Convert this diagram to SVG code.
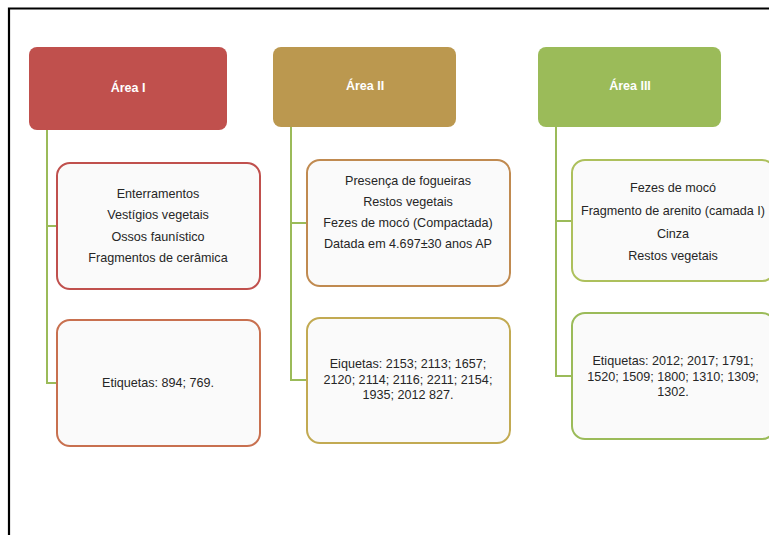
<svg xmlns="http://www.w3.org/2000/svg" width="769" height="535" viewBox="0 0 769 535">
<style>
.hd{stroke:none}
.bx{fill:#FAFAFA;stroke-width:2}
.ht{font-family:"Liberation Sans",Arial,sans-serif;font-size:12.5px;font-weight:bold;fill:#FFFFFF;text-anchor:middle}
.t{font-family:"Liberation Sans",Arial,sans-serif;font-size:12.6px;fill:#262626;text-anchor:middle}
.cn{fill:none;stroke:#9BBB59;stroke-width:2}
</style>
<rect x="0" y="0" width="769" height="535" fill="#FFFFFF"/>
<path d="M9,535 V8.5 H769" fill="none" stroke="#000000" stroke-width="2.2"/>
<g id="connectors">
<path class="cn" d="M47,130 V383 H57 M47,226 H57"/>
<path class="cn" d="M291,127 V380 H307 M291,223 H307"/>
<path class="cn" d="M556,127 V376 H572 M556,221 H572"/>
</g>
<g id="area1">
<rect class="hd" x="29" y="47" width="198" height="83" rx="8" fill="#C0504D"/>
<text class="ht" x="128" y="92">Área I</text>
</g>
<g id="area1-items">
<rect class="bx" x="57" y="163" width="203" height="126" rx="13" stroke="#C0504D"/>
<text class="t" x="158" y="198">Enterramentos</text>
<text class="t" x="158" y="219">Vestígios vegetais</text>
<text class="t" x="158" y="241">Ossos faunístico</text>
<text class="t" x="158" y="262">Fragmentos de cerâmica</text>
</g>
<g id="area1-labels">
<rect class="bx" x="57" y="320" width="203" height="126" rx="13" stroke="#C8704F"/>
<text class="t" x="158" y="387">Etiquetas: 894; 769.</text>
</g>
<g id="area2">
<rect class="hd" x="273" y="47" width="183" height="80" rx="8" fill="#BB984F"/>
<text class="ht" x="365" y="90">Área II</text>
</g>
<g id="area2-items">
<rect class="bx" x="307" y="160" width="203" height="126" rx="13" stroke="#C08A50"/>
<text class="t" x="408" y="185">Presença de fogueiras</text>
<text class="t" x="408" y="206">Restos vegetais</text>
<text class="t" x="408" y="227">Fezes de mocó (Compactada)</text>
<text class="t" x="408" y="248">Datada em 4.697±30 anos AP</text>
</g>
<g id="area2-labels">
<rect class="bx" x="307" y="318" width="203" height="125" rx="13" stroke="#C2AA52"/>
<text class="t" x="408" y="368">Eiquetas: 2153; 2113; 1657;</text>
<text class="t" x="408" y="384">2120; 2114; 2116; 2211; 2154;</text>
<text class="t" x="408" y="399">1935; 2012 827.</text>
</g>
<g id="area3">
<rect class="hd" x="538" y="47" width="183" height="80" rx="8" fill="#9BBB59"/>
<text class="ht" x="630" y="90">Área III</text>
</g>
<g id="area3-items">
<rect class="bx" x="572" y="160" width="203" height="121" rx="13" stroke="#ADC05C"/>
<text class="t" x="673" y="192">Fezes de mocó</text>
<text class="t" x="673" y="215">Fragmento de arenito (camada I)</text>
<text class="t" x="673" y="238">Cinza</text>
<text class="t" x="673" y="260">Restos vegetais</text>
</g>
<g id="area3-labels">
<rect class="bx" x="572" y="313" width="203" height="126" rx="13" stroke="#9BBB59"/>
<text class="t" x="673" y="365">Etiquetas: 2012; 2017; 1791;</text>
<text class="t" x="673" y="381">1520; 1509; 1800; 1310; 1309;</text>
<text class="t" x="673" y="396">1302.</text>
</g>
</svg>
